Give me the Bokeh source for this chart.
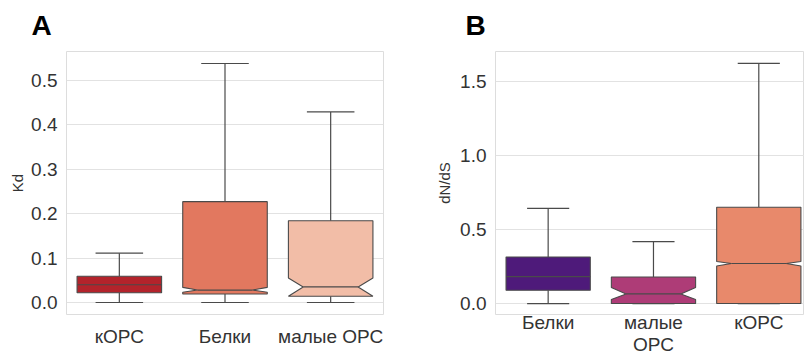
from bokeh.plotting import figure
from bokeh.layouts import row
from bokeh.models import FixedTicker, Range1d, NumeralTickFormatter
from bokeh.embed import file_html
from bokeh.resources import INLINE

# ---- Panel A data (Kd) ----
a_cats = ["кОРС", "Белки", "малые ОРС"]
a_lower = [0.0, 0.0, 0.0]
a_q1 = [0.022, 0.019, 0.014]
a_median = [0.040, 0.028, 0.035]
a_q3 = [0.059, 0.227, 0.184]
a_upper = [0.111, 0.538, 0.429]
a_notch_lo = [None, 0.023, 0.014]
a_notch_hi = [None, 0.034, 0.055]
a_colors = ["#b3232b", "#e2785f", "#f2bda7"]
a_ticks = [0.0, 0.1, 0.2, 0.3, 0.4, 0.5]

# ---- Panel B data (dN/dS) ----
b_cats = ["Белки", "малые\nОРС", "кОРС"]
b_lower = [0.0, 0.0, 0.0]
b_q1 = [0.090, 0.0, 0.0]
b_median = [0.182, 0.065, 0.270]
b_q3 = [0.314, 0.179, 0.649]
b_upper = [0.642, 0.418, 1.620]
b_notch_lo = [None, 0.027, 0.253]
b_notch_hi = [None, 0.108, 0.283]
b_colors = ["#4e1a7a", "#ae3c77", "#e8896b"]
b_ticks = [0.0, 0.5, 1.0, 1.5]

FONT = "Liberation Sans"
EDGE = "#4a4a4a"


def make_panel(letter, cats, lower, q1, med, q3, upper, nlo, nhi, colors,
               ylabel, y_start, y_end, ticks, x_end, width, mb_left, mb_right,
               mb_bottom, cap_w, title_offset, x_standoff, x_line_height,
               ylabel_standoff):
    p = figure(width=width, height=358, output_backend="svg", toolbar_location=None,
               x_range=Range1d(-0.5, x_end), y_range=Range1d(y_start, y_end),
               min_border_left=mb_left, min_border_right=mb_right,
               min_border_top=51, min_border_bottom=mb_bottom,
               background_fill_color="white", border_fill_color="white")
    p.title.text = letter
    p.title.text_font = FONT
    p.title.text_font_size = "28px"
    p.title.text_font_style = "bold"
    p.title.text_color = "black"
    p.title.text_line_height = 1.0
    p.title.vertical_align = "top"
    p.title.offset = title_offset
    p.title.standoff = 17

    hw = 0.4
    nw = 0.26
    xs_list, ys_list = [], []
    mx0, mx1, my = [], [], []
    for i in range(len(cats)):
        x = float(i)
        if nlo[i] is None:
            xs_list.append([x - hw, x + hw, x + hw, x - hw])
            ys_list.append([q1[i], q1[i], q3[i], q3[i]])
            mx0.append(x - hw); mx1.append(x + hw)
        else:
            lo = max(nlo[i], q1[i])
            xs_list.append([x - hw, x + hw, x + hw, x + nw, x + hw, x + hw,
                            x - hw, x - hw, x - nw, x - hw])
            ys_list.append([q1[i], q1[i], lo, med[i], nhi[i], q3[i],
                            q3[i], nhi[i], med[i], lo])
            mx0.append(x - nw); mx1.append(x + nw)
        my.append(med[i])

    xs = [float(i) for i in range(len(cats))]
    # whiskers
    p.segment(x0=xs, y0=q3, x1=xs, y1=upper, line_color=EDGE, line_width=1.2)
    p.segment(x0=xs, y0=lower, x1=xs, y1=q1, line_color=EDGE, line_width=1.2)
    # caps
    p.segment(x0=[x - cap_w / 2 for x in xs], y0=upper,
              x1=[x + cap_w / 2 for x in xs], y1=upper, line_color=EDGE, line_width=1.2)
    p.segment(x0=[x - cap_w / 2 for x in xs], y0=lower,
              x1=[x + cap_w / 2 for x in xs], y1=lower, line_color=EDGE, line_width=1.2)
    # boxes
    p.patches(xs_list, ys_list, fill_color=colors, line_color=EDGE, line_width=1.1)
    # medians
    p.segment(x0=mx0, y0=my, x1=mx1, y1=my, line_color=EDGE, line_width=1.2)

    p.xaxis.ticker = FixedTicker(ticks=xs)
    p.xaxis.major_label_overrides = {float(i): c for i, c in enumerate(cats)}
    p.yaxis.ticker = FixedTicker(ticks=ticks)
    p.yaxis.formatter = NumeralTickFormatter(format="0.0")
    p.yaxis.axis_label = ylabel
    for ax in (p.xaxis[0], p.yaxis[0]):
        ax.axis_line_color = None
        ax.major_tick_line_color = None
        ax.minor_tick_line_color = None
        ax.major_tick_out = 0
        ax.major_tick_in = 0
        ax.major_label_text_font = FONT
        ax.major_label_text_font_size = "19px"
        ax.major_label_text_color = "#333333"
        ax.axis_label_text_font = FONT
        ax.axis_label_text_font_size = "15px"
        ax.axis_label_text_font_style = "normal"
        ax.axis_label_text_color = "#333333"
    p.xaxis.major_label_standoff = x_standoff
    p.xaxis.major_label_text_line_height = x_line_height
    p.xaxis.axis_label_standoff = 0
    p.yaxis.major_label_standoff = 9
    p.yaxis.axis_label_standoff = ylabel_standoff
    p.xgrid.grid_line_color = None
    p.ygrid.grid_line_color = "#e2e2e2"
    p.ygrid.grid_line_width = 1
    p.outline_line_color = "#dddddd"
    p.outline_line_width = 1
    return p


pa = make_panel("A", a_cats, a_lower, a_q1, a_median, a_q3, a_upper, a_notch_lo,
                a_notch_hi, a_colors, "Kd", -0.027, 0.565, a_ticks, 2.5, 400,
                66, 17, 42, 0.45, -35, 11, 1.2, 2)
pb = make_panel("B", b_cats, b_lower, b_q1, b_median, b_q3, b_upper, b_notch_lo,
                b_notch_hi, b_colors, "dN/dS", -0.074, 1.70, b_ticks, 2.434, 404,
                95, 0, 44, 0.40, -30, -3, 1.08, 4)

layout = row(pa, pb, spacing=0)
open("out.html", "w").write(file_html(layout, INLINE))
